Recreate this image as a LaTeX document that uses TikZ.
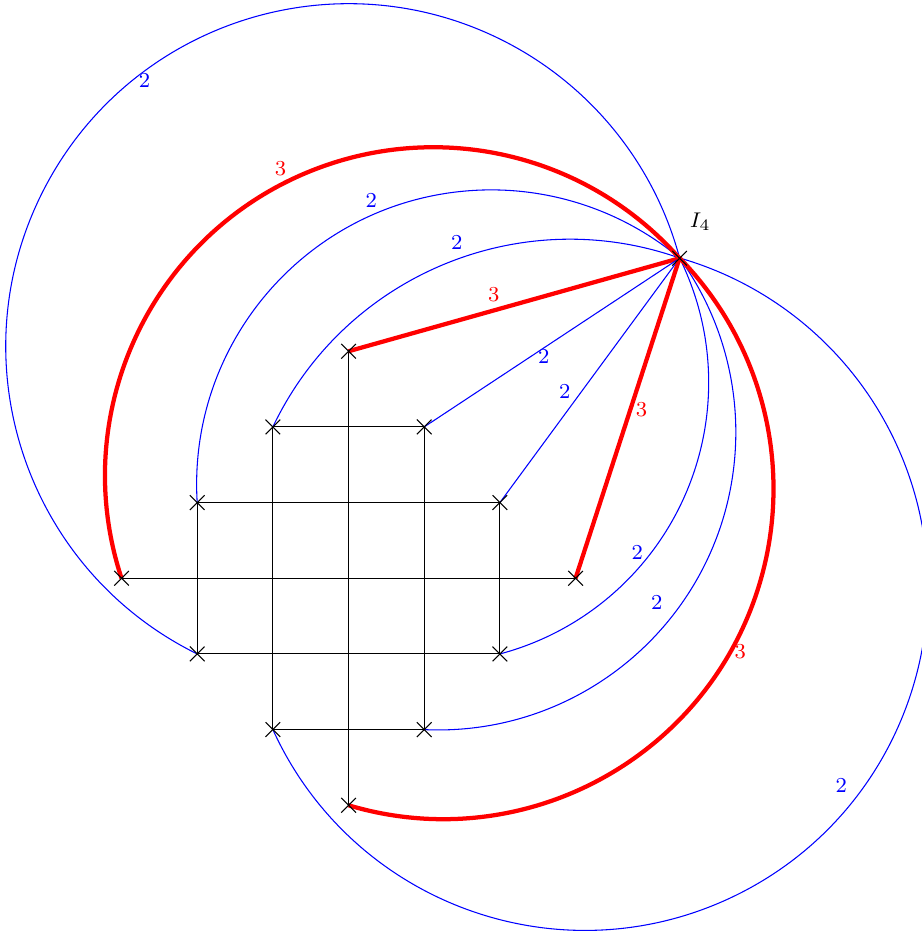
\documentclass[tikz,border=0pt]{standalone}
\usepackage{tikz}
\usetikzlibrary{shapes.misc,backgrounds}

\begin{document}
\begin{tikzpicture}[
  pt/.style={draw, cross out, thin, minimum size=1.8mm, inner sep=0pt},
  gridln/.style={thin, black},
  arcb/.style={blue, thin},
  arcr/.style={red, ultra thick},
  lblb/.style={text=blue, font=\footnotesize, inner sep=1pt},
  lblr/.style={text=red, font=\footnotesize, inner sep=1pt},
]
  \useasboundingbox (-4.606,-4.701) rectangle (7.578,7.642);

  %% points of the grid
  \node[pt] (u3)  at (0,3)   {};
  \node[pt] (u2l) at (-1,2)  {};
  \node[pt] (u2r) at (1,2)   {};
  \node[pt] (u1l) at (-2,1)  {};
  \node[pt] (u1r) at (2,1)   {};
  \node[pt] (l0)  at (-3,0)  {};
  \node[pt] (r0)  at (3,0)   {};
  \node[pt] (d1l) at (-2,-1) {};
  \node[pt] (d1r) at (2,-1)  {};
  \node[pt] (d2l) at (-1,-2) {};
  \node[pt] (d2r) at (1,-2)  {};
  \node[pt] (d3)  at (0,-3)  {};

  %% the point I_4
  \node[pt] (i4) at (4.374,4.229) {};
  \node[font=\footnotesize] (i4lbl) at (4.648,4.713) {$I_4$};

  \begin{scope}[on background layer]
    %% grid lines
    \foreach \a/\b in {l0/r0, u1l/u1r, d1l/d1r, u2l/u2r, d2l/d2r,
                       u3/d3, u2l/d2l, u2r/d2r, u1l/d1l, u1r/d1r}
      \draw[gridln] (\a.center) -- (\b.center);

    %% straight connectors to I_4
    \draw[arcr] (u3.center)  -- (i4.center);
    \draw[arcb] (u2r.center) -- (i4.center);
    \draw[arcb] (u1r.center) -- (i4.center);
    \draw[arcr] (r0.center)  -- (i4.center);

    %% blue arcs to I_4
    \foreach \p/\s/\e/\r in {u2l/154.57/70.58/4.347, u1l/183.53/50.28/3.893,
                             d1l/243.80/14.94/4.529, d1r/-75.13/26.30/3.712,
                             d2r/-92.67/35.80/3.935, d2l/-155.51/74.01/4.531}
      \draw[arcb] (\p.center) arc[start angle=\s, end angle=\e, radius=\r];

    %% red arcs to I_4
    \foreach \p/\s/\e/\r in {l0/198.23/41.49/4.339, d3/-106.64/44.32/4.366}
      \draw[arcr] (\p.center) arc[start angle=\s, end angle=\e, radius=\r];
  \end{scope}

  %% lengths
  \node[lblb] (t1)  at (-2.696,6.585) {2};
  \node[lblr] (t2)  at (-0.899,5.418) {3};
  \node[lblb] (t3)  at (0.300,4.999)  {2};
  \node[lblb] (t4)  at (1.431,4.435)  {2};
  \node[lblr] (t5)  at (1.920,3.753)  {3};
  \node[lblb] (t6)  at (2.581,2.929)  {2};
  \node[lblb] (t7)  at (2.859,2.466)  {2};
  \node[lblr] (t8)  at (3.872,2.233)  {3};
  \node[lblb] (t9)  at (3.815,0.344)  {2};
  \node[lblb] (t10) at (4.074,-0.317) {2};
  \node[lblr] (t11) at (5.176,-0.970) {3};
  \node[lblb] (t12) at (6.511,-2.732) {2};
\end{tikzpicture}
\end{document}
